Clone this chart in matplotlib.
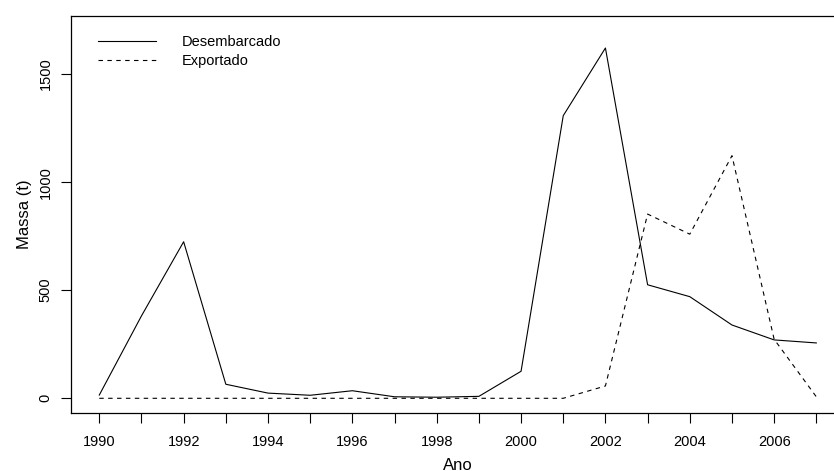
import matplotlib
matplotlib.use("Agg")
import matplotlib.pyplot as plt
import numpy as np

anos = list(range(1990, 2008))
desembarcado = [15, 381, 724, 65, 24, 14, 35, 7, 5, 9, 125, 1307, 1620, 525, 470, 339, 270, 256]
exportado = [0, 0, 0, 0, 0, 0, 0, 0, 0, 0, 0, 0, 57, 852, 759, 1122, 273, 7]
anos_rotulo = [1990, 1992, 1994, 1996, 1998, 2000, 2002, 2004, 2006]
massa_ticks = [0, 500, 1000, 1500]

def plot():
    plt.rcParams['font.family'] = ['Liberation Sans', 'DejaVu Sans']
    W, H = 834, 471
    fig = plt.figure(figsize=(W / 100, H / 100), dpi=100)
    # R-style plot box, the right side runs past the image edge
    ax = fig.add_axes([70.6 / W, (H - 413) / H, (845 - 70.6) / W, (413 - 16) / H])

    ax.plot(anos, desembarcado, color='black', lw=0.8, label='Desembarcado')
    ax.plot(anos, exportado, color='black', lw=0.8, dashes=(4, 4), label='Exportado')

    ax.set_xlim(1990 - 0.68, 2007 + 0.68)
    ax.set_ylim(-68, 1768)

    ax.set_xticks(anos)
    ax.set_xticklabels([str(a) if a in anos_rotulo else '' for a in anos])
    ax.set_yticks(massa_ticks)
    ax.set_yticklabels([str(v) for v in massa_ticks], rotation=90, va='center')
    ax.tick_params(direction='out', length=7, width=0.8, labelsize=10.5, color='black', pad=9)
    ax.tick_params(axis='y', pad=6)

    for s in ax.spines.values():
        s.set_linewidth(0.9)

    ax.set_xlabel('Ano', fontsize=12, labelpad=6)
    ax.set_ylabel('Massa (t)', fontsize=12, labelpad=5)

    ax.legend(loc='upper left', frameon=False, fontsize=10.5, handlelength=4.0,
              handletextpad=1.8, bbox_to_anchor=(0.018, 0.985), labelspacing=0.35)

    fig.savefig('out.png', dpi=100)

def main():
    plot()

if __name__ == "__main__":
    main()
